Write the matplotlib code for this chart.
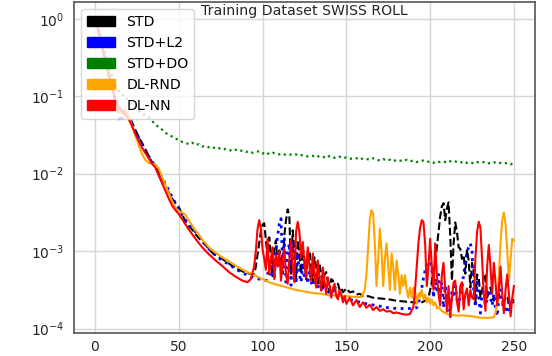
import numpy as np
import matplotlib
matplotlib.use("Agg")
import matplotlib.pyplot as plt
import matplotlib.patches as mpatches

# training loss, stored as (epoch, log10(loss))
std_pts = [(0, 0.02), (2, -0.15), (4, -0.33), (6, -0.52), (8, -0.7), (10, -0.88), (12, -1.03), (14, -1.13),
           (16, -1.18), (18, -1.2), (20, -1.25), (22, -1.33), (24, -1.43), (26, -1.52), (28, -1.6), (30, -1.68),
           (32, -1.77), (34, -1.85), (36, -1.92), (38, -1.98), (40, -2.06), (42, -2.14), (44, -2.24), (46, -2.32),
           (48, -2.38), (50, -2.43), (52, -2.52), (54, -2.62), (56, -2.68), (58, -2.72), (60, -2.78), (62, -2.83),
           (64, -2.88), (66, -2.92), (68, -2.97), (70, -3.02), (73, -3.06), (76, -3.1), (80, -3.16), (84, -3.22),
           (88, -3.26), (92, -3.29), (95, -3.3), (96, -3.2), (97, -3.05), (98, -2.9), (99, -2.75), (100, -2.66),
           (101, -2.64), (102, -2.85), (103, -3.08), (104, -2.82), (105, -3.05), (106, -3.34), (107, -2.95),
           (108, -2.86), (109, -3.21), (110, -2.99), (111, -3.1), (112, -3.29), (113, -2.8), (114, -2.6),
           (115, -2.46), (116, -2.55), (117, -3.29), (118, -2.73), (119, -3.0), (120, -3.34), (121, -2.86),
           (122, -3.05), (123, -3.29), (124, -2.95), (125, -3.1), (126, -3.36), (127, -3.0), (128, -2.99),
           (129, -3.2), (130, -3.38), (131, -3.08), (132, -3.2), (133, -3.42), (134, -3.16), (135, -3.3),
           (136, -3.47), (137, -3.3), (138, -3.27), (139, -3.4), (140, -3.51), (141, -3.36), (142, -3.38),
           (143, -3.5), (144, -3.45), (145, -3.42), (146, -3.5), (147, -3.47), (148, -3.53), (150, -3.48),
           (152, -3.53), (154, -3.52), (156, -3.56), (158, -3.55), (160, -3.58), (163, -3.58), (166, -3.6),
           (170, -3.61), (175, -3.62), (180, -3.64), (185, -3.65), (190, -3.66), (194, -3.67), (197, -3.64),
           (199, -3.6), (201, -3.4), (203, -3.15), (204, -2.95), (205, -2.75), (206, -2.55), (207, -2.42),
           (208, -2.38), (209, -2.6), (210, -2.45), (211, -2.37), (212, -2.8), (213, -3.38), (214, -2.9),
           (215, -2.63), (216, -2.75), (217, -2.95), (218, -2.97), (219, -3.1), (220, -3.05), (221, -3.29),
           (222, -2.98), (223, -3.12), (224, -3.47), (225, -3.15), (226, -3.25), (227, -3.66), (228, -3.3),
           (229, -3.34), (230, -3.6), (231, -3.51), (232, -3.35), (233, -3.29), (234, -3.6), (235, -3.5),
           (236, -3.47), (237, -3.58), (238, -3.64), (239, -3.55), (241, -3.55), (242, -3.62), (244, -3.68),
           (245, -3.6), (246, -3.6), (247, -3.66), (248, -3.7), (249, -3.62), (250, -3.64)]

l2_pts = [(0, 0.02), (2, -0.15), (4, -0.33), (6, -0.52), (8, -0.7), (10, -0.87), (12, -1.05), (14, -1.22),
          (15, -1.33), (16, -1.3), (17, -1.2), (18, -1.22), (20, -1.27), (22, -1.35), (24, -1.45), (26, -1.53),
          (28, -1.62), (30, -1.7), (32, -1.77), (34, -1.84), (36, -1.9), (38, -1.97), (40, -2.05), (42, -2.13),
          (44, -2.21), (46, -2.3), (48, -2.38), (50, -2.45), (52, -2.53), (54, -2.6), (56, -2.65), (58, -2.7),
          (60, -2.75), (62, -2.8), (64, -2.86), (66, -2.92), (68, -2.97), (70, -3.02), (73, -3.07), (76, -3.12),
          (80, -3.17), (84, -3.23), (88, -3.28), (92, -3.32), (96, -3.35), (100, -3.37), (102, -3.38),
          (103, -3.3), (104, -3.2), (105, -3.3), (106, -3.15), (107, -3.35), (108, -3.0), (109, -2.8),
          (110, -2.65), (111, -2.58), (112, -3.15), (113, -2.84), (114, -3.4), (115, -3.02), (116, -2.9),
          (117, -3.44), (118, -2.89), (119, -3.2), (120, -3.42), (121, -3.02), (122, -3.3), (123, -3.4),
          (124, -3.15), (125, -3.36), (126, -3.3), (127, -3.42), (128, -3.25), (129, -3.4), (130, -3.45),
          (132, -3.29), (133, -3.45), (135, -3.51), (137, -3.42), (139, -3.52), (141, -3.55), (143, -3.5),
          (145, -3.58), (148, -3.6), (151, -3.62), (155, -3.64), (160, -3.67), (165, -3.69), (170, -3.71),
          (175, -3.73), (180, -3.74), (185, -3.74), (190, -3.74), (192, -3.73), (194, -3.6), (196, -3.35),
          (198, -3.15), (200, -3.14), (201, -3.2), (202, -3.6), (203, -3.35), (204, -3.5), (205, -3.3),
          (206, -3.55), (207, -3.4), (208, -3.73), (209, -3.45), (210, -3.55), (211, -3.64), (212, -3.84),
          (213, -3.5), (214, -3.6), (215, -3.45), (216, -3.62), (217, -3.72), (218, -3.55), (219, -3.48),
          (220, -3.3), (221, -3.15), (222, -3.0), (223, -2.95), (224, -2.9), (225, -3.0), (226, -3.5),
          (227, -3.72), (228, -3.4), (229, -3.6), (230, -3.8), (231, -3.55), (232, -3.5), (233, -3.7),
          (234, -3.62), (235, -3.5), (236, -3.6), (237, -3.7), (238, -3.55), (239, -3.75), (240, -3.84),
          (241, -3.6), (242, -3.5), (243, -3.65), (244, -3.76), (245, -3.7), (246, -3.8), (247, -3.62),
          (248, -3.7), (249, -3.65), (250, -3.68)]

# dropout run, every second epoch from 0 to 250
do_log = [0.02, -0.12, -0.28, -0.44, -0.58, -0.72, -0.84, -0.93, -0.98, -1.0, -1.06, -1.11, -1.15, -1.19,
          -1.21, -1.25, -1.27, -1.32, -1.36, -1.4, -1.43, -1.47, -1.5, -1.52, -1.55, -1.56, -1.59, -1.6,
          -1.62, -1.6, -1.63, -1.62, -1.65, -1.64, -1.66, -1.65, -1.68, -1.67, -1.69, -1.68, -1.69, -1.71,
          -1.69, -1.71, -1.7, -1.72, -1.71, -1.73, -1.72, -1.71, -1.74, -1.72, -1.75, -1.73, -1.74, -1.75,
          -1.74, -1.76, -1.75, -1.76, -1.75, -1.77, -1.76, -1.78, -1.77, -1.77, -1.79, -1.77, -1.78, -1.8,
          -1.77, -1.79, -1.8, -1.78, -1.8, -1.79, -1.81, -1.8, -1.8, -1.82, -1.8, -1.81, -1.82, -1.8, -1.82,
          -1.83, -1.81, -1.83, -1.82, -1.84, -1.82, -1.83, -1.84, -1.82, -1.84, -1.83, -1.85, -1.84, -1.83,
          -1.85, -1.84, -1.86, -1.84, -1.85, -1.84, -1.86, -1.84, -1.83, -1.85, -1.86, -1.84, -1.86, -1.85,
          -1.87, -1.85, -1.86, -1.85, -1.87, -1.86, -1.85, -1.87, -1.86, -1.87, -1.86, -1.88, -1.86]

rnd_pts = [(0, 0.02), (2, -0.15), (4, -0.33), (6, -0.52), (8, -0.7), (10, -0.87), (12, -1.02), (14, -1.17),
           (15, -1.22), (16, -1.2), (17, -1.17), (18, -1.18), (20, -1.25), (22, -1.37), (24, -1.5), (26, -1.62),
           (28, -1.74), (30, -1.82), (32, -1.86), (34, -1.87), (36, -1.88), (38, -1.93), (40, -2.04),
           (42, -2.14), (44, -2.25), (46, -2.35), (48, -2.44), (50, -2.48), (52, -2.5), (54, -2.53), (56, -2.6),
           (58, -2.67), (60, -2.73), (64, -2.85), (68, -2.95), (72, -3.02), (76, -3.08), (80, -3.13),
           (85, -3.2), (90, -3.26), (95, -3.31), (100, -3.36), (105, -3.41), (110, -3.44), (115, -3.47),
           (120, -3.5), (125, -3.52), (130, -3.54), (135, -3.55), (140, -3.57), (145, -3.57), (150, -3.58),
           (155, -3.59), (159, -3.59), (161, -3.5), (162, -3.3), (163, -2.95), (164, -2.6), (165, -2.47),
           (166, -2.52), (167, -2.9), (168, -3.45), (169, -3.1), (170, -2.71), (171, -3.0), (172, -3.45),
           (173, -3.1), (174, -2.9), (175, -3.2), (176, -3.5), (177, -3.03), (178, -3.2), (179, -3.5),
           (180, -3.12), (181, -3.3), (182, -3.55), (183, -3.31), (184, -3.45), (185, -3.31), (186, -3.5),
           (187, -3.6), (188, -3.47), (189, -3.6), (190, -3.47), (191, -3.5), (192, -3.68), (193, -3.55),
           (194, -3.6), (195, -3.5), (196, -3.62), (197, -3.56), (198, -3.66), (199, -3.6), (200, -3.68),
           (201, -3.62), (202, -3.7), (203, -3.66), (204, -3.74), (205, -3.72), (207, -3.77), (209, -3.8),
           (212, -3.82), (215, -3.83), (220, -3.83), (225, -3.84), (230, -3.86), (235, -3.86), (238, -3.85),
           (239, -3.8), (240, -3.64), (241, -3.3), (242, -2.9), (243, -2.6), (244, -2.5), (245, -2.65),
           (246, -3.0), (247, -3.38), (248, -3.1), (249, -2.84), (250, -2.86)]

nn_pts = [(0, 0.02), (2, -0.15), (4, -0.33), (6, -0.52), (8, -0.7), (10, -0.87), (12, -1.02), (14, -1.14),
          (16, -1.2), (18, -1.24), (20, -1.29), (22, -1.38), (24, -1.48), (26, -1.57), (28, -1.66), (30, -1.73),
          (32, -1.8), (34, -1.87), (36, -1.92), (38, -2.02), (40, -2.12), (42, -2.22), (44, -2.32), (46, -2.41),
          (48, -2.47), (50, -2.52), (53, -2.62), (56, -2.72), (60, -2.84), (64, -2.95), (68, -3.04),
          (72, -3.12), (76, -3.19), (80, -3.27), (84, -3.33), (88, -3.38), (91, -3.4), (93, -3.36),
          (95, -3.2), (96, -3.0), (97, -2.72), (98, -2.6), (99, -2.7), (100, -2.97), (101, -3.1), (102, -3.24),
          (103, -2.84), (104, -3.3), (105, -3.1), (106, -2.95), (107, -3.36), (108, -3.05), (109, -3.2),
          (110, -3.0), (111, -3.38), (112, -3.15), (113, -2.97), (114, -3.3), (115, -3.42), (116, -3.1),
          (117, -2.86), (118, -3.2), (119, -3.4), (120, -2.75), (121, -2.62), (122, -2.75), (123, -3.08),
          (124, -2.88), (125, -3.15), (126, -3.34), (127, -2.95), (128, -3.2), (129, -3.38), (130, -3.03),
          (131, -3.3), (132, -3.47), (133, -3.12), (134, -3.35), (135, -3.51), (136, -3.21), (137, -3.4),
          (138, -3.55), (139, -3.34), (140, -3.45), (141, -3.6), (142, -3.48), (143, -3.42), (144, -3.58),
          (145, -3.62), (146, -3.5), (147, -3.56), (148, -3.66), (149, -3.58), (150, -3.68), (152, -3.6),
          (154, -3.7), (156, -3.63), (158, -3.72), (160, -3.66), (162, -3.73), (164, -3.69), (166, -3.76),
          (168, -3.72), (170, -3.77), (172, -3.75), (174, -3.78), (176, -3.77), (178, -3.8), (180, -3.79),
          (183, -3.81), (186, -3.82), (188, -3.81), (190, -3.72), (191, -3.5), (192, -3.2), (193, -2.9),
          (194, -2.7), (195, -2.6), (196, -2.62), (197, -2.9), (198, -3.45), (199, -3.2), (200, -2.84),
          (201, -3.2), (202, -3.5), (203, -2.9), (204, -3.3), (205, -3.55), (206, -3.7), (207, -3.3),
          (208, -3.15), (209, -3.5), (210, -3.78), (211, -3.45), (212, -3.85), (213, -3.6), (214, -3.4),
          (215, -3.38), (216, -3.65), (217, -3.78), (218, -3.45), (219, -3.4), (220, -3.75), (221, -3.55),
          (222, -3.48), (223, -3.7), (224, -3.5), (225, -3.6), (226, -3.62), (227, -3.1), (228, -2.75),
          (229, -2.62), (230, -2.7), (231, -3.1), (232, -3.55), (233, -3.77), (234, -3.2), (235, -2.92),
          (236, -3.2), (237, -3.55), (238, -3.15), (239, -3.4), (240, -3.7), (241, -3.5), (242, -3.2),
          (243, -3.55), (244, -3.8), (245, -3.5), (246, -3.3), (247, -3.55), (248, -3.84), (249, -3.6),
          (250, -3.45)]

labels = ["STD", "STD+L2", "STD+DO", "DL-RND", "DL-NN"]
colors = ["black", "blue", "green", "orange", "red"]
title = "Training Dataset SWISS ROLL"


def unpack(pts):
    e, v = zip(*pts)
    return np.array(e), 10.0 ** np.array(v)


plt.rcParams["font.family"] = "DejaVu Sans"
plt.rcParams["font.size"] = 10

fig = plt.figure(figsize=(5.52, 3.56), dpi=100)
ax = fig.add_axes([0.134, 0.065, 0.835, 0.929])

e, v = unpack(std_pts)
ax.plot(e, v, color=colors[0], ls="--", lw=1.5)
e, v = unpack(l2_pts)
ax.plot(e, v, color=colors[1], ls=":", lw=2)
do_e = 2 * np.arange(len(do_log))
ax.plot(do_e, 10.0 ** np.array(do_log), color=colors[2], ls=":", lw=1.6)
e, v = unpack(rnd_pts)
ax.plot(e, v, color=colors[3], ls="-", lw=1.5)
e, v = unpack(nn_pts)
ax.plot(e, v, color=colors[4], ls="-", lw=1.5)

ax.set_yscale("log")
ax.set_xticks([0, 50, 100, 150, 200, 250])
ax.minorticks_off()
ax.grid(True, color="#d5d5d5", lw=1)
ax.set_axisbelow(True)
ax.tick_params(axis="x", length=0, pad=5, labelsize=10, labelcolor="#262626")
ax.tick_params(axis="y", length=0, pad=7, labelsize=10, labelcolor="#262626")
for s in ax.spines.values():
    s.set_color("#555555")
    s.set_linewidth(1.2)

ax.text(0.5, 0.962, title, transform=ax.transAxes, ha="center", va="baseline",
        fontsize=10.2, color="#262626")

handles = [mpatches.Patch(color=c, label=l) for c, l in zip(colors, labels)]
ax.legend(handles=handles, loc="upper left", fontsize=10.2, labelspacing=0.5,
          framealpha=0.8, edgecolor="#cccccc")

fig.savefig("out.png", dpi=100)
